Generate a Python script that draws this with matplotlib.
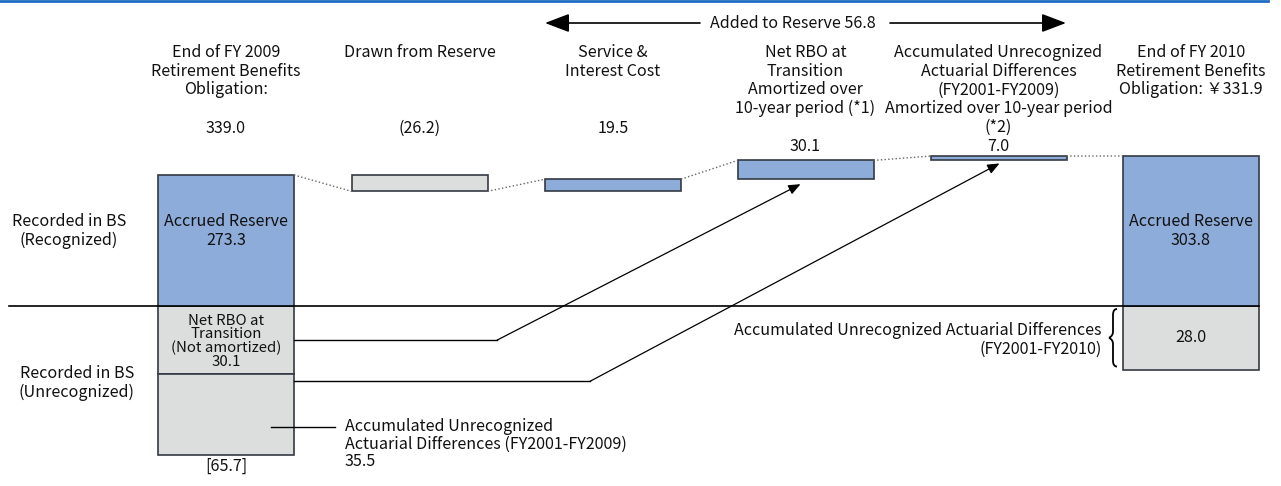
import matplotlib
matplotlib.use("Agg")
import matplotlib.pyplot as plt
from matplotlib.path import Path
from matplotlib.patches import PathPatch

plt.rcParams['font.family'] = ['Noto Sans CJK JP', 'DejaVu Sans']

# --- data (billions of yen) ---
start_obligation = 339.0
accrued_start = 273.3
step_titles = ['Drawn from Reserve',
               'Service &\nInterest Cost',
               'Net RBO at\nTransition\nAmortized over\n10-year period (*1)',
               'Accumulated Unrecognized\nActuarial Differences\n(FY2001-FY2009)\nAmortized over 10-year period\n(*2)']
step_values = [-26.2, 19.5, 30.1, 7.0]
step_texts = ['(26.2)', '19.5', '30.1', '7.0']
accrued_end = 303.8
end_obligation = 331.9
unrec_start = [30.1, 35.5]       # net RBO at transition, actuarial differences
unrec_start_total = 65.7
unrec_end = 28.0
added_to_reserve = 56.8

# --- layout (pixels) ---
W, H = 1281, 486
BASE_PX = 306          # line between recognized / unrecognized
TOP_S = 0.623          # px per unit above the line
ANCHOR_PX = 156        # where accrued_end sits
LOW_S = 2.27           # px per unit below the line
xs = [226, 419.5, 613, 805.5, 998.5, 1191]
bw = 136
BLUE = '#8DACD9'
GREY = '#DCDEDD'
EDGE = '#333a44'
TXT = '#111111'
FS = 11.6
LS = 1.13

fig = plt.figure(figsize=(W / 100, H / 100), dpi=100)

# recognized part: value axis, truncated at the line
ax_top = fig.add_axes([0, (H - BASE_PX) / H, 1, BASE_PX / H])
ax_top.set_xlim(0, W)
ax_top.set_ylim(accrued_end - (BASE_PX - ANCHOR_PX) / TOP_S, accrued_end + ANCHOR_PX / TOP_S)
ax_top.axis('off')

# unrecognized part: values drawn downwards from the line
ax_bot = fig.add_axes([0, 0, 1, (H - BASE_PX) / H])
ax_bot.set_xlim(0, W)
ax_bot.set_ylim(-(H - BASE_PX) / LOW_S, 0)
ax_bot.axis('off')

# overlay for text and connectors, pixel coords
ax_px = fig.add_axes([0, 0, 1, 1])
ax_px.set_xlim(0, W)
ax_px.set_ylim(H, 0)
ax_px.axis('off')
ax_px.patch.set_alpha(0)


def to_px(ax, x, y):
    d = ax.transData.transform((x, y))
    return ax_px.transData.inverted().transform(d)


# waterfall levels
levels = [accrued_start]
for v in step_values:
    levels.append(levels[-1] + v)
ends = levels + [accrued_end]

# recognized bars
ax_top.bar(xs[0], accrued_start, width=bw, color=BLUE, edgecolor=EDGE, lw=1.2)
ax_top.bar(xs[5], accrued_end, width=bw, color=BLUE, edgecolor=EDGE, lw=1.2)
for i, v in enumerate(step_values):
    bottom = min(levels[i], levels[i + 1])
    ax_top.bar(xs[i + 1], abs(v), bottom=bottom, width=bw,
               color=GREY if v < 0 else BLUE, edgecolor=EDGE, lw=1.2)

# dotted connectors between bars
for i in range(5):
    ax_top.plot([xs[i] + bw / 2, xs[i + 1] - bw / 2], [ends[i], ends[i + 1]],
                ls=':', lw=1, color='#666666')

# unrecognized bars
ax_bot.bar(xs[0], -unrec_start[0], width=bw, color=GREY, edgecolor=EDGE, lw=1.2)
ax_bot.bar(xs[0], -unrec_start[1], bottom=-unrec_start[0], width=bw, color=GREY, edgecolor=EDGE, lw=1.2)
ax_bot.bar(xs[5], -unrec_end, width=bw, color=GREY, edgecolor=EDGE, lw=1.2)

# top blue rule and middle line
ax_px.plot([0, 1268], [1.5, 1.5], color='#1E6EC3', lw=2)
ax_px.plot([9, xs[5] + bw / 2], [BASE_PX, BASE_PX], color='black', lw=1.2)

# "Added to Reserve" arrow
ax_px.text(793, 23, f'Added to Reserve {added_to_reserve}', ha='center', va='center', fontsize=FS, color=TXT)
arr = dict(arrowstyle='-|>,head_length=1.0,head_width=0.38', color='black', lw=1.2,
           mutation_scale=15, shrinkA=0, shrinkB=0)
ax_px.annotate('', xy=(545, 23), xytext=(700, 23), arrowprops=arr)
ax_px.annotate('', xy=(1066, 23), xytext=(890, 23), arrowprops=arr)

# column headings
ax_px.text(xs[0], 44, 'End of FY 2009\nRetirement Benefits\nObligation:', ha='center', va='top',
           fontsize=FS, color=TXT, linespacing=LS)
ax_px.text(xs[0], 128, f'{start_obligation}', ha='center', va='center', fontsize=FS, color=TXT)
ax_px.text(xs[5], 44, f'End of FY 2010\nRetirement Benefits\nObligation: \uffe5{end_obligation}',
           ha='center', va='top', fontsize=FS, color=TXT, linespacing=LS)
for i, (t, s) in enumerate(zip(step_titles, step_texts)):
    ax_px.text(xs[i + 1], 44, t, ha='center', va='top', fontsize=FS, color=TXT, linespacing=LS)
    ax_px.text(xs[i + 1], 128 if i < 2 else 146, s, ha='center', va='center', fontsize=FS, color=TXT)

# row labels
ax_px.text(69, 231, 'Recorded in BS\n(Recognized)', ha='center', va='center', fontsize=FS, color=TXT, linespacing=LS)
ax_px.text(77, 383, 'Recorded in BS\n(Unrecognized)', ha='center', va='center', fontsize=FS, color=TXT, linespacing=LS)

# inside bars
ax_px.text(xs[0], 231, f'Accrued Reserve\n{accrued_start}', ha='center', va='center', fontsize=FS, color=TXT, linespacing=LS)
ax_px.text(xs[5], 231, f'Accrued Reserve\n{accrued_end}', ha='center', va='center', fontsize=FS, color=TXT, linespacing=LS)

_, y_rbo_bot = to_px(ax_bot, 0, -unrec_start[0])
_, y_act_bot = to_px(ax_bot, 0, -sum(unrec_start))
_, y_end_bot = to_px(ax_bot, 0, -unrec_end)
ax_px.text(xs[0], (BASE_PX + y_rbo_bot) / 2 + 1, f'Net RBO at\nTransition\n(Not amortized)\n{unrec_start[0]}',
           ha='center', va='center', fontsize=10.8, color=TXT, linespacing=0.95)
ax_px.text(xs[0], y_act_bot + 11, f'[{unrec_start_total}]', ha='center', va='center', fontsize=FS, color=TXT)
ax_px.text(xs[5], (BASE_PX + y_end_bot) / 2, f'{unrec_end}', ha='center', va='center', fontsize=FS, color=TXT)

# leader into the actuarial differences box
y_lead = (y_rbo_bot + y_act_bot) / 2 + 12
ax_px.plot([271, 335], [y_lead, y_lead], color='black', lw=1)
ax_px.text(345, y_lead - 9, f'Accumulated Unrecognized\nActuarial Differences (FY2001-FY2009)\n{unrec_start[1]}',
           ha='left', va='top', fontsize=FS, color=TXT, linespacing=1.06)

# label and brace for end-of-year unrecognized
ax_px.text(1102, (BASE_PX + y_end_bot) / 2 + 2, 'Accumulated Unrecognized Actuarial Differences\n(FY2001-FY2010)',
           ha='right', va='center', fontsize=FS, color=TXT, linespacing=LS, multialignment='right')
bx, top, bot = 1113, BASE_PX + 3, y_end_bot - 3
mid = (top + bot) / 2
verts = [(bx + 4, top), (bx, top), (bx, top + 6), (bx, mid - 6), (bx, mid - 2),
         (bx - 4, mid), (bx - 4, mid), (bx, mid + 2), (bx, mid + 6), (bx, bot - 6),
         (bx, bot), (bx + 4, bot)]
codes = [Path.MOVETO, Path.CURVE3, Path.CURVE3, Path.LINETO, Path.CURVE3, Path.CURVE3,
         Path.MOVETO, Path.CURVE3, Path.CURVE3, Path.LINETO, Path.CURVE3, Path.CURVE3]
ax_px.add_patch(PathPatch(Path(verts, codes), fill=False, lw=1.3, color='black'))

# connectors from unamortized amounts to the amortization bars
_, y_rbo_tip = to_px(ax_top, 0, levels[2])
_, y_act_tip = to_px(ax_top, 0, levels[3])
link = dict(arrowstyle='-|>,head_length=0.6,head_width=0.25', color='black', lw=0.9,
            mutation_scale=12, shrinkA=0, shrinkB=0)
y1 = (BASE_PX + y_rbo_bot) / 2
ax_px.plot([xs[0] + bw / 2, 497], [y1, y1], color='black', lw=1)
ax_px.annotate('', xy=(xs[3] - 5, y_rbo_tip + 5), xytext=(497, y1), arrowprops=link)
y2 = y_rbo_bot + 7
ax_px.plot([xs[0] + bw / 2, 590], [y2, y2], color='black', lw=1)
ax_px.annotate('', xy=(xs[4] + 1, y_act_tip + 3), xytext=(590, y2), arrowprops=link)

fig.savefig('out.png', dpi=100)
